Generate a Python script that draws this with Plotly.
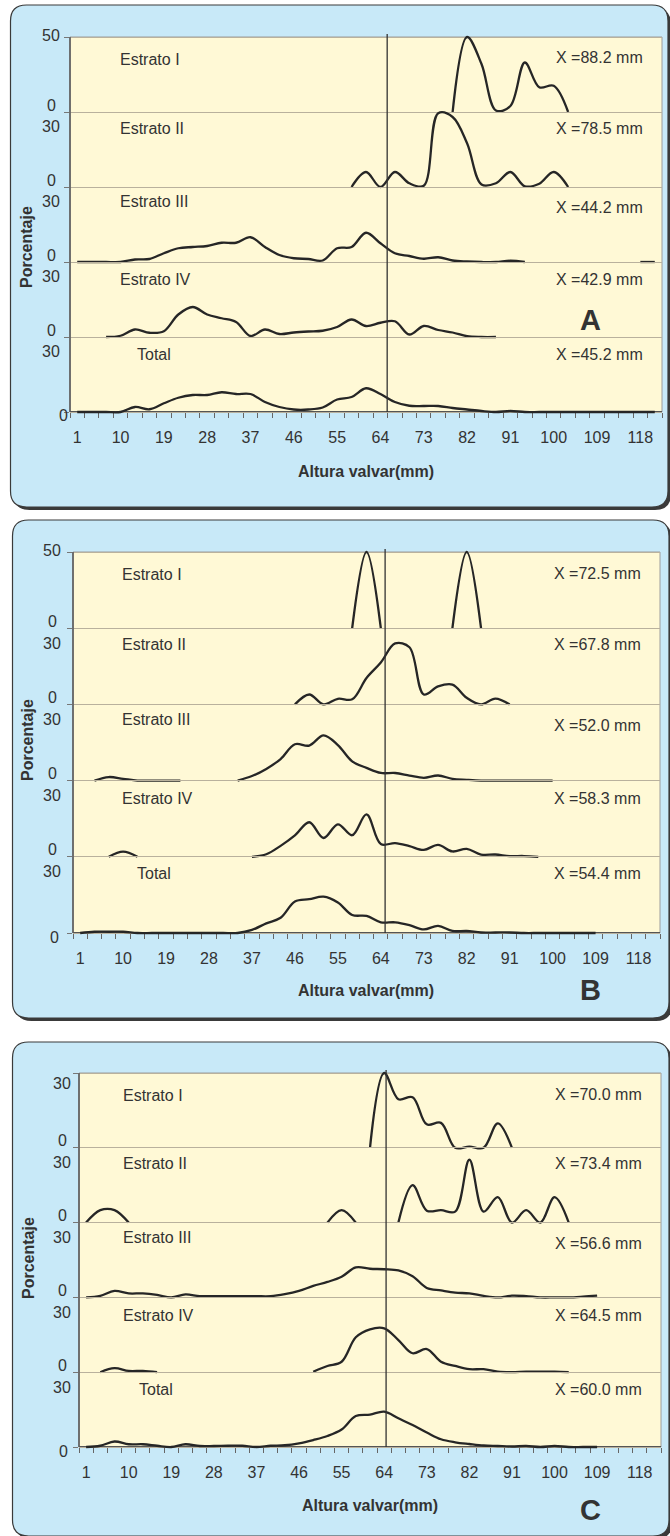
import plotly.graph_objects as go

W, H = 670, 1536
N = None
FONT = "Liberation Sans, Arial, sans-serif"
INK = "#333333"

# size classes in mm (3 mm bins) and the labelled ones
CLASSES = list(range(1, 122, 3))
TICK_LABELS = list(range(1, 119, 9))
BIN_EDGES = [c - 1.5 for c in CLASSES] + [CLASSES[-1] + 1.5]
STRATA = ["Estrato I", "Estrato II", "Estrato III", "Estrato IV", "Total"]

# ---- panel A : frequency (%) per size class
A_E1 = [N] * 26 + [0, 50, 32, 1, 4, 33, 16.5, 17.5, 0] + [N] * 6
A_E2 = [N] * 19 + [0, 6, 0, 6, 1.5, 0.5, 29.5, 28, 17.5, 1, 1.5, 6, 0.3, 1.3, 6, 0] + [N] * 6
A_E3 = [0, 0, 0, 0, 1, 1.2, 3.5, 5.5, 6, 6.4, 7.7, 7.7, 9.9, 6, 2.8, 1.5, 1.2, 0.6, 5.5, 6,
        11.7, 7.5, 3.5, 2.4, 1.3, 1.9, 0.6, 0.2, 0, 0, 0.5, 0] + [N] * 7 + [0, 0]
A_E4 = [N] * 2 + [0, 0.5, 3, 1.7, 2.3, 9, 12, 9, 7.5, 6, 0.4, 3, 1.2, 1.8, 2.2, 2.5, 4, 7,
                  4.4, 5.7, 6.3, 1, 4.4, 2.8, 1.8, 0.3, 0, 0] + [N] * 11
A_TOT = [0, 0, 0, 0, 2, 1.1, 3.5, 5.7, 6.8, 6.8, 7.9, 7.2, 7.2, 4, 2, 1, 1, 1.8, 5, 6,
         9.5, 7.2, 4, 2.5, 2.4, 2.4, 1.6, 1, 0.4, 0, 0.4, 0] + [0] * 9
A_MEANS = ["88.2", "78.5", "44.2", "42.9", "45.2"]

# ---- panel B
B_E1 = [N] * 19 + [0, 50, 0] + [N] * 4 + [0, 50, 0] + [N] * 12
B_E2 = [N] * 15 + [0, 3.9, 0, 2.2, 2, 10.4, 16.5, 24, 22.5, 3.9, 7.1, 7.8, 2.6, 0, 2.3, 0] + [N] * 10
B_E3 = [N] + [0, 1.4, 0.7, 0, 0, 0, 0] + [N] * 3 + [0, 1.8, 4.6, 8.5, 14.3, 13.8, 17.8, 14, 7.6, 5,
                                                  3, 3, 2, 1.1, 2, 0.7, 0.3, 0, 0, 0, 0, 0, 0] + [N] * 7
B_E4 = [N] * 2 + [0, 2, 0] + [N] * 7 + [0, 1, 4.3, 8.4, 13.6, 7.4, 12.8, 8.5, 16.7, 5, 5.4, 4.2,
                                        2.7, 4.7, 2.1, 3.1, 0.9, 0.9, 0.3, 0.3, 0] + [N] * 8
B_TOT = [0, 0.5, 0.5, 0.5, 0, 0, 0, 0, 0, 0, 0, 0, 1.2, 3.8, 6, 12.4, 13.3, 14.3, 12, 7.1,
         6.7, 4.2, 4.2, 3.1, 1.4, 2.8, 0.8, 0.8, 0.2, 0.2, 0.2, 0, 0, 0, 0, 0, 0] + [N] * 4
B_MEANS = ["72.5", "67.8", "52.0", "58.3", "54.4"]

# ---- panel C
C_E1 = [N] * 20 + [0, 30, 19.5, 20.3, 9.4, 10, 0, 0.5, 0, 9.8, 0] + [N] * 10
C_E2 = [0, 5, 5, 0] + [N] * 13 + [0, 5, 0] + [N] * 2 + [0, 15, 4.8, 5, 4.4, 25.2, 4.4, 10.2, 0,
                                                       5, 0, 10.2, 0] + [N] * 6
C_E3 = [0, 0.6, 2.6, 1.6, 1.6, 1, 0, 1.2, 0.5, 0.5, 0.5, 0.5, 0.5, 0.5, 1.3, 2.6, 4.6, 6.2, 8.3, 12,
        11.5, 11.3, 10.8, 8.5, 3.8, 2.8, 1.9, 1.6, 0.6, 0, 0.7, 0.5, 0, 0, 0, 0.3, 0.7] + [N] * 4
C_E4 = [N] + [0, 1.6, 0.5, 0.5, 0] + [N] * 10 + [0.2, 2.5, 4.2, 14, 17.2, 17.6, 12.9, 7.6, 9.3, 4.2,
                                                 2.5, 1.2, 1.2, 0.2, 0, 0.2, 0.2, 0.2, 0] + [N] * 6
C_TOT = [0, 0.5, 2.2, 1.1, 1.1, 0.5, 0, 1.1, 0.4, 0.4, 0.5, 0.5, 0, 0.5, 0.7, 1.5, 2.8, 4.4, 7, 12.4,
         13, 14.2, 11.5, 8.8, 5.8, 3.1, 1.9, 1.2, 0.6, 0.4, 0.2, 0.4, 0, 0.4, 0, 0, 0] + [N] * 4
C_MEANS = ["70.0", "73.4", "56.6", "64.5", "60.0"]

PANELS = [
    dict(letter="A", series=[A_E1, A_E2, A_E3, A_E4, A_TOT], means=A_MEANS,
         ymax=[50, 30, 30, 30, 30], ref=65.4),
    dict(letter="B", series=[B_E1, B_E2, B_E3, B_E4, B_TOT], means=B_MEANS,
         ymax=[50, 30, 30, 30, 30], ref=64.9),
    dict(letter="C", series=[C_E1, C_E2, C_E3, C_E4, C_TOT], means=C_MEANS,
         ymax=[30, 30, 30, 30, 30], ref=64.4),
]

# page geometry of each panel, in pixels
GEOM = [
    dict(box=(10.5, 5, 668, 507), plot=(70, 37, 662, 412), ylab_x=51, ybot_x=63, top_dy=-2,
         name_x=118, total_x=135, mean_r=645, letter_xy=(590, 320),
         ytitle=(27, 247), xtitle=(366, 471)),
    dict(box=(12.5, 520, 669, 1018), plot=(73, 552, 660, 933), ylab_x=52, ybot_x=54, top_dy=-1.5,
         name_x=120, total_x=135, mean_r=643, letter_xy=(590, 990),
         ytitle=(28, 740), xtitle=(366, 990)),
    dict(box=(12.5, 1042, 669, 1536), plot=(79, 1073, 661, 1447), ylab_x=62, ybot_x=63, top_dy=10,
         name_x=121, total_x=137, mean_r=644, letter_xy=(590, 1510),
         ytitle=(28, 1258), xtitle=(370, 1505)),
]
NAME_DY = [22, 16, 15, 18, 17]
MEAN_DY = [21, 16, 21, 18, 17]
FS = 16


def px(x):
    return x / W


def py(y):
    return 1 - y / H


def rounded_rect(x0, y0, x1, y1, r):
    pts = [
        ("M", [(x0 + r, y0)]), ("L", [(x1 - r, y0)]), ("Q", [(x1, y0), (x1, y0 + r)]),
        ("L", [(x1, y1 - r)]), ("Q", [(x1, y1), (x1 - r, y1)]), ("L", [(x0 + r, y1)]),
        ("Q", [(x0, y1), (x0, y1 - r)]), ("L", [(x0, y0 + r)]), ("Q", [(x0, y0), (x0 + r, y0)]),
    ]
    out = []
    for cmd, coords in pts:
        out.append(cmd + " " + " ".join(f"{px(a):.5f},{py(b):.5f}" for a, b in coords))
    return " ".join(out) + " Z"


fig = go.Figure()
layout = dict(
    width=W, height=H, margin=dict(l=0, r=0, t=0, b=0),
    paper_bgcolor="white", plot_bgcolor="rgba(0,0,0,0)",
    showlegend=False, font=dict(family=FONT, color=INK, size=FS),
)
shapes, annotations = [], []


def txt(x, y, s, size=FS, bold=False, xanchor="center", angle=0):
    annotations.append(dict(
        x=px(x), y=py(y), xref="paper", yref="paper", text=f"<b>{s}</b>" if bold else s,
        showarrow=False, xanchor=xanchor, yanchor="middle", textangle=angle,
        font=dict(family=FONT, size=size, color=INK),
    ))


PAD = 3
for p, (panel, g) in enumerate(zip(PANELS, GEOM)):
    left, top, right, bottom = g["plot"]
    bx0, by0, bx1, by1 = g["box"]
    band_h = (bottom - top) / 5
    xname = f"x{p + 1}" if p else "x"
    xkey = f"xaxis{p + 1}" if p else "xaxis"

    # rounded light-blue card with a drop shadow, then the plotting area
    shapes.append(dict(type="path", xref="paper", yref="paper", layer="below",
                       path=rounded_rect(bx0 + 3, by0 + 3, bx1 + 3, by1 + 3, 16),
                       fillcolor="#3a3a3a", line=dict(width=0)))
    shapes.append(dict(type="path", xref="paper", yref="paper", layer="below",
                       path=rounded_rect(bx0, by0, bx1, by1, 16),
                       fillcolor="#C8E9F8", line=dict(color="#3a3a3a", width=1.2)))
    shapes.append(dict(type="rect", xref="paper", yref="paper", layer="below",
                       x0=px(left), x1=px(right), y0=py(bottom), y1=py(top),
                       fillcolor="#FFF9D6", line=dict(color="#9c9c9c", width=1)))
    shapes.append(dict(type="line", xref="paper", yref="paper", layer="above",
                       x0=px(left), x1=px(left), y0=py(bottom), y1=py(top),
                       line=dict(color="#5a5a5a", width=1.6)))

    layout[xkey] = dict(
        domain=[px(left), px(right)], range=[-0.5, 122.5], anchor="free", position=py(bottom),
        tickmode="array", tickvals=TICK_LABELS, ticktext=[str(v) for v in TICK_LABELS],
        ticks="", ticklabelstandoff=11, tickfont=dict(size=FS, color=INK, family=FONT),
        showline=True, linecolor="#555555", linewidth=1.5, showgrid=False, zeroline=False,
        minor=dict(tickmode="array", tickvals=BIN_EDGES, ticks="outside", ticklen=5,
                   tickcolor="#666666", tickwidth=1, showgrid=False),
        fixedrange=True,
    )

    for b in range(5):
        idx = p * 5 + b + 1
        yname = f"y{idx}" if idx > 1 else "y"
        ykey = f"yaxis{idx}" if idx > 1 else "yaxis"
        ymax = panel["ymax"][b]
        t = top + b * band_h
        bt = t + band_h
        scale = ymax / band_h
        layout[ykey] = dict(
            domain=[py(bt + PAD), py(t - PAD)], range=[-PAD * scale, ymax + PAD * scale],
            anchor=xname, tickmode="array", tickvals=[0, ymax], ticks="outside", ticklen=5,
            tickcolor="#777777", showticklabels=False, showgrid=True, gridcolor="#b9b19d",
            gridwidth=1, zeroline=False, showline=False, fixedrange=True,
        )
        fig.add_trace(go.Scatter(
            x=CLASSES, y=panel["series"][b], mode="lines", connectgaps=False,
            line=dict(color="#262626", width=2.3, shape="spline", smoothing=1),
            xaxis=xname, yaxis=yname, hoverinfo="skip",
        ))

        # stratum name and mean height
        nx = g["total_x"] if b == 4 else g["name_x"]
        txt(nx, t + NAME_DY[b], STRATA[b], xanchor="left")
        txt(g["mean_r"], t + MEAN_DY[b], "X =" + panel["means"][b] + " mm", xanchor="right")

        # y scale labels of the band
        if b == 0:
            txt(g["ylab_x"], t + g["top_dy"], str(ymax))
        else:
            txt(g["ylab_x"], t + 15, str(ymax))
        if b < 4:
            txt(g["ylab_x"], bt - 7, "0")
        else:
            txt(g["ybot_x"], bt + 4, "0")

    # reference height line
    shapes.append(dict(type="line", xref=xname, yref="paper", layer="above",
                       x0=panel["ref"], x1=panel["ref"], y0=py(bottom), y1=py(top - 3),
                       line=dict(color="#333333", width=1.3)))

    txt(*g["ytitle"], "Porcentaje", size=16, bold=True, angle=-90)
    txt(*g["xtitle"], "Altura valvar(mm)", size=16, bold=True)
    txt(*g["letter_xy"], panel["letter"], size=29, bold=True)

layout["shapes"] = shapes
layout["annotations"] = annotations
fig.update_layout(**layout)
fig.write_html("out.html")
